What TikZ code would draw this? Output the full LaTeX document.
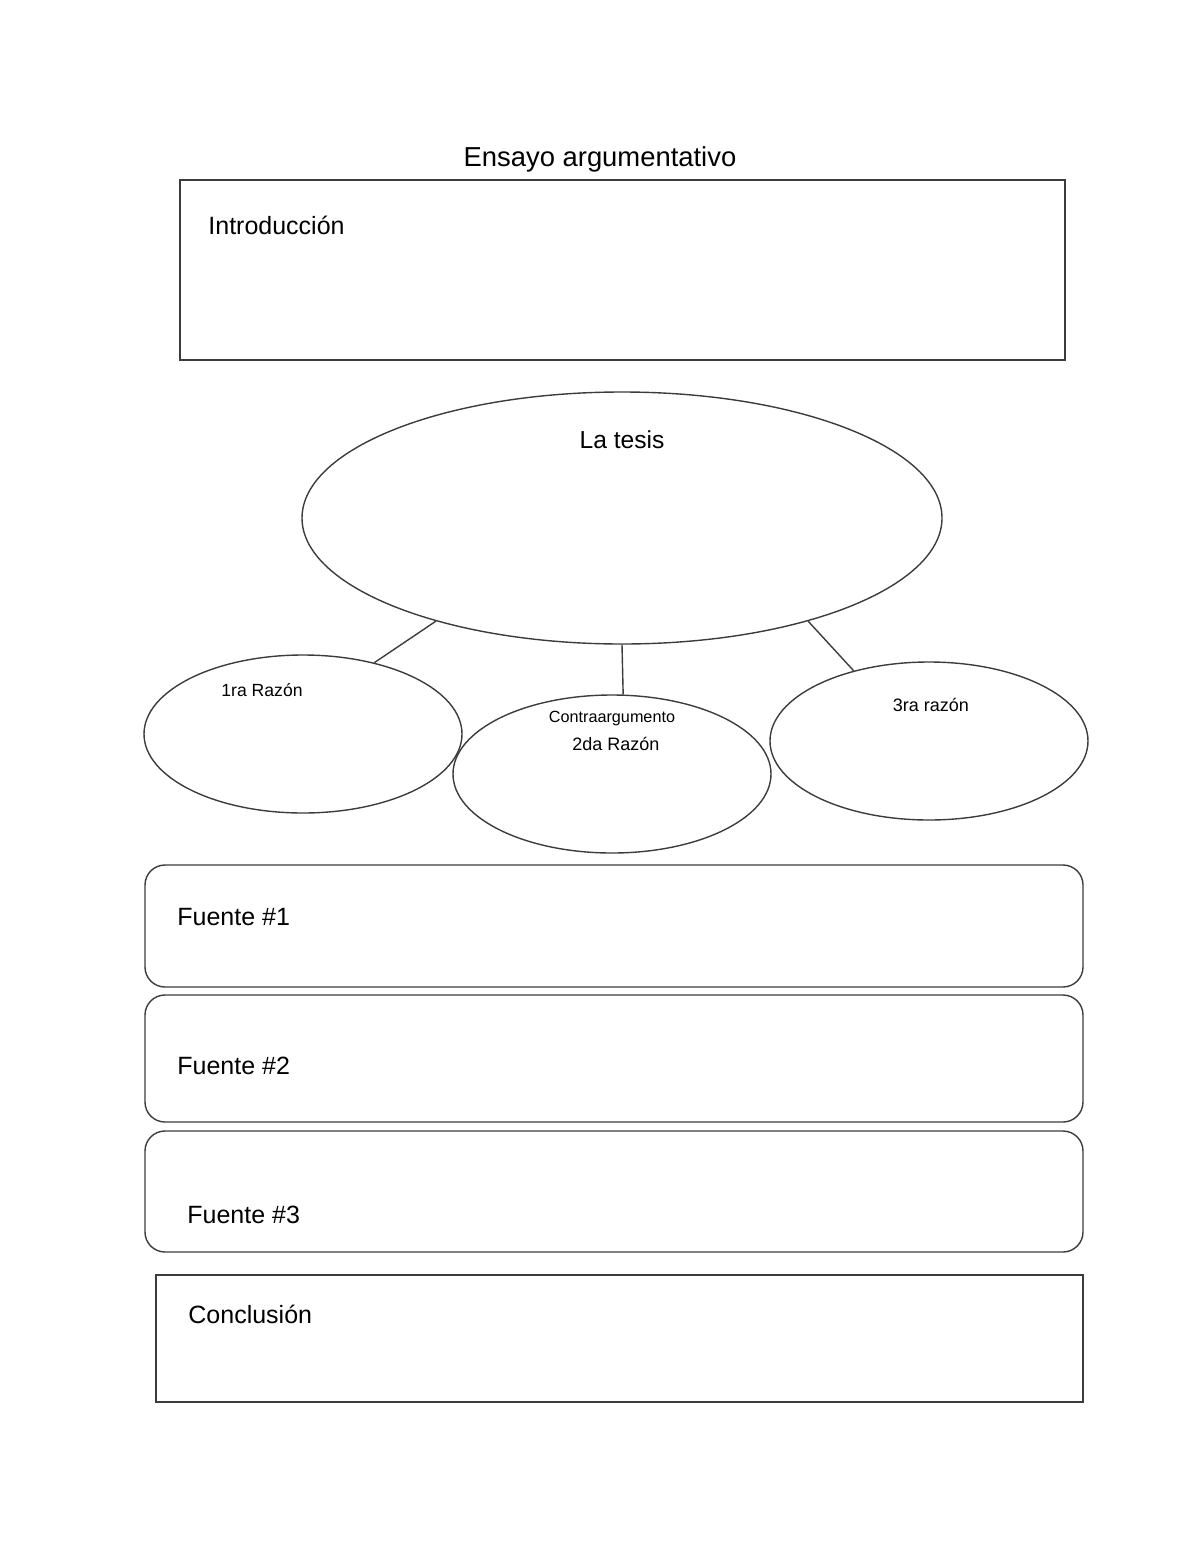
\documentclass[tikz,border=0pt]{standalone}
\usepackage{fontspec}
\setmainfont{Liberation Sans}
\usepackage{tikz}
\usetikzlibrary{positioning,shapes.geometric,calc}
\definecolor{lineink}{RGB}{60,60,60}
\tikzset{
  sheetbox/.style={rectangle,draw=lineink,line width=0.7pt,inner sep=0pt},
  roundbox/.style={rectangle,rounded corners=10pt,draw=lineink,line width=0.7pt,inner sep=0pt,minimum width=469pt},
  bigoval/.style={ellipse,draw=lineink,line width=0.7pt,inner sep=0pt,minimum width=320pt,minimum height=126pt},
  smalloval/.style={ellipse,draw=lineink,line width=0.7pt,inner sep=0pt,minimum width=159pt,minimum height=79pt},
  boxlabel/.style={anchor=west,inner sep=0pt,font=\fontsize{12.5}{15}\selectfont},
  ovallabel/.style={inner sep=0pt,font=\fontsize{9}{11}\selectfont},
  link/.style={draw=lineink,line width=0.7pt}
}
\begin{document}
\begin{tikzpicture}[x=0.5pt,y=-0.5pt]
  \useasboundingbox (0,0) rectangle (1200,1553);
  \node[inner sep=0pt,font=\fontsize{13.7}{16}\selectfont] (title) at (600,159) {Ensayo argumentativo};
  % introduccion
  \node[sheetbox,minimum width=442.5pt,minimum height=90pt] (intro) at (622.5,270) {};
  \node[boxlabel] (introtxt) at (208,225) {Introducción};
  % tesis y razones
  \node[bigoval] (tesis) at (622,518) {};
  \node[inner sep=0pt,font=\fontsize{12.3}{15}\selectfont] (tesistxt) at (622,440) {La tesis};
  \node[smalloval] (razon1) at (303,734) {};
  \node[smalloval] (razon2) at (612,774) {};
  \node[smalloval] (razon3) at (929,741) {};
  \node[ovallabel,font=\fontsize{8.8}{11}\selectfont] (razon1txt) at (262,690) {1ra Razón};
  \node[ovallabel,font=\fontsize{8.1}{10}\selectfont] (contratxt) at (612,719) {Contraargumento};
  \node[ovallabel,below=5pt of contratxt,xshift=2pt] (razon2txt) {2da Razón};
  \node[ovallabel] (razon3txt) at (931,705) {3ra razón};
  \draw[link] (tesis.209) -- (razon1.45);
  \draw[link] (tesis.south) -- (razon2.82);
  \draw[link] (tesis.331) -- (razon3.137);
  % fuentes
  \node[roundbox,minimum height=61pt] (fuente1) at (614,926) {};
  \node[roundbox,minimum height=63.5pt] (fuente2) at (614,1058.5) {};
  \node[roundbox,minimum height=60.5pt] (fuente3) at (614,1191.5) {};
  \node[boxlabel] (fuente1txt) at (177,917) {Fuente \#1};
  \node[boxlabel] (fuente2txt) at (177,1066) {Fuente \#2};
  \node[boxlabel] (fuente3txt) at (187,1215) {Fuente \#3};
  % conclusion
  \node[sheetbox,minimum width=463.5pt,minimum height=63.5pt] (concl) at (619.5,1338.5) {};
  \node[boxlabel] (concltxt) at (188,1314) {Conclusión};
\end{tikzpicture}
\end{document}
